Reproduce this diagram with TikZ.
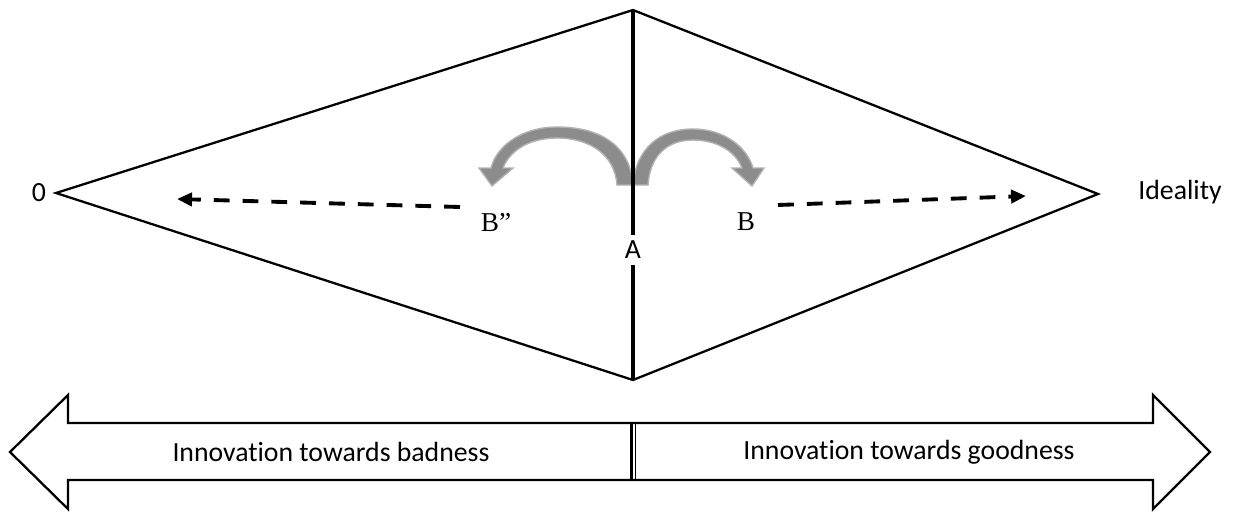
\documentclass[tikz,border=0pt]{standalone}
\usepackage{fontspec}
\setmainfont[Ligatures=NoCommon]{Carlito}
\newfontfamily\timesf{Liberation Serif}
\usetikzlibrary{arrows.meta}
\begin{document}
\begin{tikzpicture}[x=0.02cm,y=-0.02cm,
  edge/.style={line width=1.3pt,line join=miter},
  axis/.style={line width=2.3pt},
  dasharrow/.style={line width=2.2pt,dash pattern=on 9pt off 7.4pt,-{Triangle[length=8.5pt,width=7.5pt]}},
  curvarrow/.style={fill=black!45,draw=black!30,line width=0.8pt},
  lbl/.style={font=\fontsize{15.8pt}{18pt}\selectfont,inner sep=1pt},
  serif/.style={font=\timesf\fontsize{15.5pt}{18pt}\selectfont,inner sep=1pt},
  bigarrow/.style={line width=1.3pt,line join=miter,fill=white}]
\useasboundingbox (0,0) rectangle (1235,511);
% diamond vertices
\coordinate (L) at (56,193);
\coordinate (T) at (633,10);
\coordinate (R) at (1098,194);
\coordinate (Bt) at (633,380);
\draw[edge] (L) -- (T) -- (R) -- (Bt) -- cycle;
% curved gray arrows
\path[curvarrow] (633,185) .. controls (630,143) and (597,127) .. (557,127)
  .. controls (523,127) and (497,145) .. (491,168) -- (479,168) -- (492,186) -- (513,168) -- (503,168)
  .. controls (510,150) and (530,138) .. (557,138)
  .. controls (590,138) and (615,155) .. (617,185) -- cycle;
\path[curvarrow] (633,185) .. controls (636,148) and (660,129) .. (693,129)
  .. controls (722,129) and (746,145) .. (753,168) -- (764,168) -- (752,186) -- (732,168) -- (742,168)
  .. controls (735,150) and (715,140) .. (693,140)
  .. controls (668,140) and (650,155) .. (648,185) -- cycle;
% central axis with label A
\node[lbl,fill=white,inner sep=3pt] (A) at (633,250) {A};
\draw[axis] (T) -- (A.north);
\draw[axis] (A.south) -- (Bt);
% labels
\node[lbl] (zero) at (39,193) {0};
\node[lbl] (ideal) at (1180,192) {Ideality};
\node[serif] (Bpp) at (496,222) {B”};
\node[serif] (Bp) at (746,222) {B};
% dashed arrows
\coordinate (ls) at (460,207);
\coordinate (le) at (177,199);
\coordinate (rs) at (778,205);
\coordinate (re) at (1026,196);
\draw[dasharrow] (ls) -- (le);
\draw[dasharrow] (rs) -- (re);
% bottom double arrow
\draw[bigarrow] (10,452) -- (68,395) -- (68,423) -- (1153,423) -- (1153,395) -- (1210,452)
  -- (1153,509) -- (1153,480) -- (68,480) -- (68,509) -- cycle;
\coordinate (d1t) at (631.5,423);
\coordinate (d1b) at (631.5,480);
\coordinate (d2t) at (635.5,423);
\coordinate (d2b) at (635.5,480);
\draw[line width=1.6pt] (d1t) -- (d1b);
\draw[line width=0.7pt] (d2t) -- (d2b);
\node[lbl] (bad) at (331,452) {Innovation towards badness};
\node[lbl] (good) at (909,452) {Innovation towards goodness};
\end{tikzpicture}
\end{document}
